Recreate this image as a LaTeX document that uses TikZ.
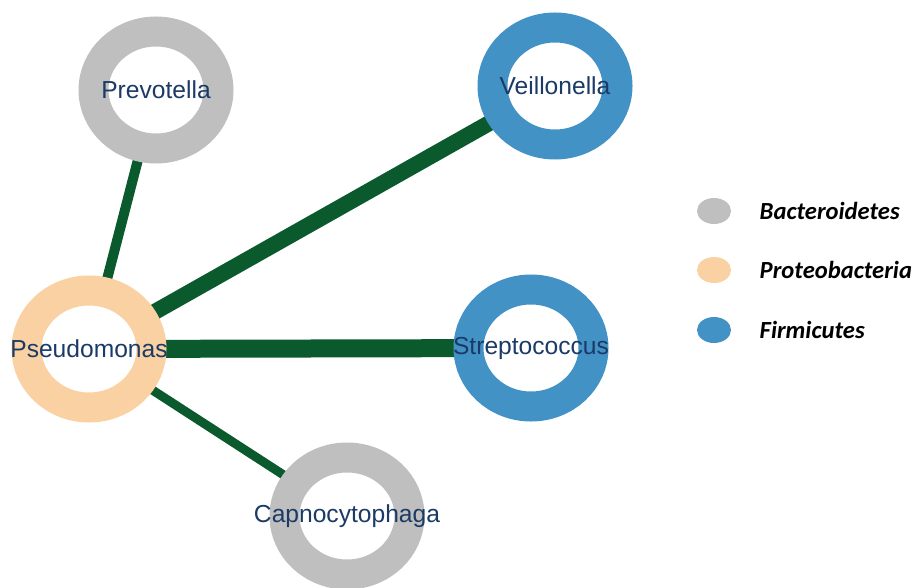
\documentclass[tikz,border=0pt]{standalone}
\usepackage{fontspec}
\setmainfont{Liberation Sans}
\newfontfamily\legendfont{Carlito}
\usetikzlibrary{positioning, shapes.geometric, backgrounds}
\definecolor{CGray}{HTML}{BFBFBF}
\definecolor{CPeach}{HTML}{FAD1A2}
\definecolor{CBlue}{HTML}{4292C6}
\definecolor{CGreen}{HTML}{0A5A2D}
\definecolor{CNavy}{HTML}{1B3A66}

\tikzset{
    ring/.style={ellipse, draw=#1, fill=white, line width=0.6cm, minimum width=2.5cm, minimum height=2.34cm, inner sep=0pt},
    genus/.style={font=\fontsize{14}{16}\selectfont, text=CNavy, inner sep=0pt},
    link/.style={CGreen, line width=#1},
    phylum/.style={ellipse, fill=#1, minimum width=0.68cm, minimum height=0.52cm, inner sep=0pt},
    phylumtext/.style={font=\legendfont\fontsize{14}{16}\selectfont\bfseries\itshape, inner sep=0pt}
}

\begin{document}
\begin{tikzpicture}
    \useasboundingbox (0, 0) rectangle (18.3, 11.74);

    % Rings
    \node[ring=CGray]  (prev)  at (3.12, 9.94) {};
    \node[ring=CBlue]  (veil)  at (11.10, 10.02) {};
    \node[ring=CPeach] (pseu)  at (1.78, 4.76) {};
    \node[ring=CBlue]  (strep) at (10.62, 4.78) {};
    \node[ring=CGray]  (capno) at (6.94, 1.42) {};

    % Links (behind the rings)
    \begin{scope}[on background layer]
        \draw[link=0.2cm]  (pseu.center) -- (prev.center);
        \draw[link=0.32cm] (pseu.center) -- (veil.center);
        \draw[link=0.36cm] (pseu.center) -- (strep.center);
        \draw[link=0.18cm] (pseu.center) -- (capno.center);
    \end{scope}

    % Names
    \node[genus] (prevname)  at (prev)  {Prevotella};
    \node[genus] (veilname)  at (veil)  {Veillonella};
    \node[genus] (pseuname)  at (pseu)  {Pseudomonas};
    \node[genus] (strepname) at (strep) {Streptococcus};
    \node[genus] (capnoname) at (capno) {Capnocytophaga};

    % Legend
    \node[phylum=CGray]  (bact) at (14.28, 7.52) {};
    \node[phylum=CPeach] (prot) at (14.28, 6.34) {};
    \node[phylum=CBlue]  (firm) at (14.28, 5.14) {};
    \node[phylumtext, right=0.56cm of bact] (bacttext) {Bacteroidetes};
    \node[phylumtext, right=0.56cm of prot] (prottext) {Proteobacteria};
    \node[phylumtext, right=0.56cm of firm] (firmtext) {Firmicutes};
\end{tikzpicture}
\end{document}
